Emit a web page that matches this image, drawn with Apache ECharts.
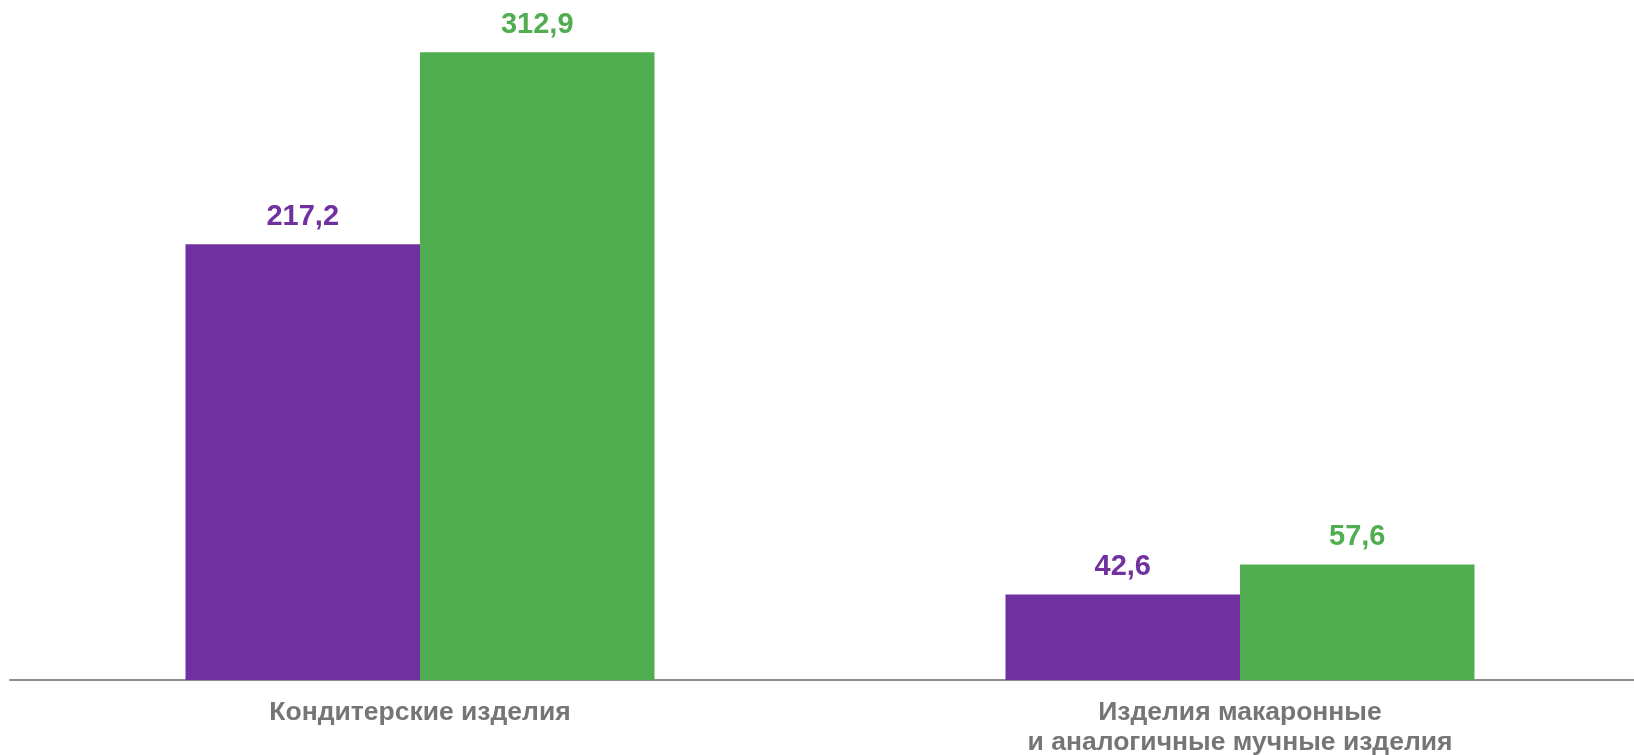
<!DOCTYPE html>
<html>
<head>
<meta charset="utf-8">
<script src="https://cdn.jsdelivr.net/npm/echarts@6/dist/echarts.min.js"></script>
<style>
  html, body { margin: 0; padding: 0; background: #fff; }
  #chart { width: 1634px; height: 755px; }
</style>
</head>
<body>
<div id="chart"></div>
<script>
const categories = ['Кондитерские изделия', 'Изделия макаронные\nи аналогичные мучные изделия'];
const purpleValues = [217.2, 42.6];
const greenValues = [312.9, 57.6];

const purple = '#7030A0';
const green = '#50AE50';

const chart = echarts.init(document.getElementById('chart'));

function barLabel(color) {
  return {
    show: true,
    position: 'top',
    distance: 13,
    color: color,
    fontFamily: 'Liberation Sans, Arial, sans-serif',
    fontWeight: 'bold',
    fontSize: 29,
    formatter: (p) => String(p.value).replace('.', ',')
  };
}

const option = {
  animation: false,
  grid: { left: 10, width: 1640, top: 18, bottom: 75, outerBoundsMode: 'none', containLabel: false },
  xAxis: {
    type: 'category',
    data: categories,
    axisLine: { lineStyle: { color: '#8c8c8c', width: 2 } },
    axisTick: { show: false },
    axisLabel: {
      interval: 0,
      margin: 17,
      color: '#757575',
      fontFamily: 'Liberation Sans, Arial, sans-serif',
      fontWeight: 'bold',
      fontSize: 26.5,
      lineHeight: 30.5
    }
  },
  yAxis: {
    type: 'value',
    min: 0,
    max: 330,
    show: false,
    splitLine: { show: false }
  },
  series: [
    {
      type: 'bar',
      data: purpleValues,
      barWidth: 234.5,
      barGap: '0%',
      itemStyle: { color: purple },
      label: barLabel(purple)
    },
    {
      type: 'bar',
      data: greenValues,
      barWidth: 234.5,
      barGap: '0%',
      itemStyle: { color: green },
      label: barLabel(green)
    }
  ]
};

chart.setOption(option);
</script>
</body>
</html>
